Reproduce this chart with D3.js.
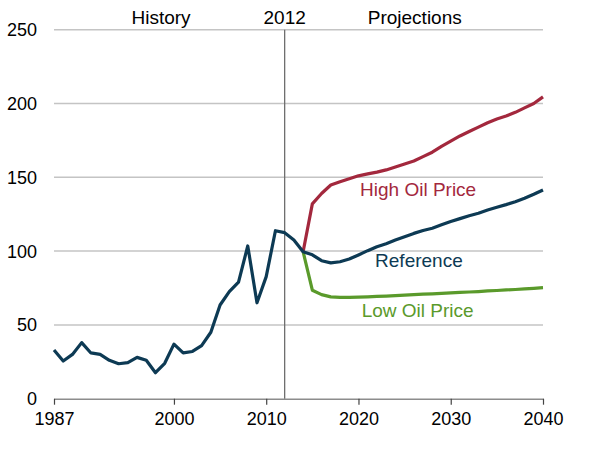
<!DOCTYPE html>
<html>
<head>
<meta charset="utf-8">
<script src="https://cdn.jsdelivr.net/npm/d3@7"></script>
<style>
  body { margin: 0; background: #fff; }
  svg text { font-family: "Liberation Sans", Arial, sans-serif; }
</style>
</head>
<body>
<svg id="chart" width="600" height="454"></svg>
<script>
(function() {
    // values
    var historyYears = d3.range(1987, 2014);
    var historyValues = [33, 25.5, 30, 38, 31, 30, 26, 23.7, 24.4, 28, 26, 17.6, 24,
        37, 31, 32, 36, 45, 63.5, 72.5, 79, 103.5, 65, 82.7, 113.8, 112.5, 107.5];

    var projYears = d3.range(2014, 2041);
    var referenceValues = [99.6, 97.5, 93.5, 92, 92.8, 94.6, 97.4, 100.3, 103, 105, 107.5,
        109.8, 112, 114, 115.5, 117.8, 120, 122, 124, 125.6, 127.8, 129.7, 131.5, 133.5,
        135.8, 138.5, 141.4];
    var highValues = [99.6, 132, 139, 144.8, 147, 149, 151, 152.3, 153.5, 155, 157, 159,
        161, 164, 167, 171, 174.5, 178, 181, 184, 187, 189.5, 191.5, 194, 197, 200, 204.5];
    var lowValues = [99.6, 73.5, 70.5, 69, 68.7, 68.7, 68.8, 69, 69.3, 69.5, 69.8, 70.2,
        70.5, 70.8, 71, 71.3, 71.7, 72, 72.3, 72.6, 73, 73.3, 73.7, 74, 74.4, 74.8, 75.2];

    var xTicks = [1987, 2000, 2010, 2020, 2030, 2040];
    var yTicks = [0, 50, 100, 150, 200, 250];
    var splitYear = 2012;

    var colors = { reference: "#0d3a54", high: "#a3283d", low: "#5a9a2b" };

    var svg = d3.select("#chart");

    var x = d3.scaleLinear().domain([1987, 2040]).range([54, 543]);
    var y = d3.scaleLinear().domain([0, 250]).range([398.7, 29.7]);

    // gridlines
    svg.append("g")
        .selectAll("line")
        .data(yTicks.filter(d => d > 0))
        .join("line")
            .attr("x1", x(1987)).attr("x2", x(2040))
            .attr("y1", d => y(d)).attr("y2", d => y(d))
            .attr("stroke", "#c4c4c4")
            .attr("stroke-width", 1.5);

    // y labels
    svg.append("g")
        .selectAll("text")
        .data(yTicks)
        .join("text")
            .attr("x", 37)
            .attr("y", d => y(d))
            .attr("dy", "0.36em")
            .attr("text-anchor", "end")
            .attr("font-size", 18)
            .attr("fill", "#000")
            .text(d => d);

    // x axis
    var xAxis = svg.append("g")
        .attr("transform", "translate(0," + y(0) + ")")
        .call(d3.axisBottom(x).tickValues(xTicks).tickFormat(d3.format("d")).tickSize(6).tickSizeOuter(0));
    xAxis.select(".domain").attr("stroke", "#8c8c8c").attr("stroke-width", 1.5);
    xAxis.selectAll(".tick line").attr("stroke", "#444").attr("stroke-width", 1.2);
    xAxis.selectAll(".tick text")
        .attr("font-size", 18)
        .attr("font-family", "Liberation Sans, Arial, sans-serif")
        .attr("fill", "#000")
        .attr("y", 14);

    // 2012 divider
    svg.append("line")
        .attr("x1", x(splitYear)).attr("x2", x(splitYear))
        .attr("y1", y(250)).attr("y2", y(0))
        .attr("stroke", "#6e6e6e")
        .attr("stroke-width", 1.3);

    // top labels
    var topLabels = [
        { text: "History", year: 1998.6 },
        { text: "2012", year: 2012 },
        { text: "Projections", year: 2026.1 }
    ];
    svg.append("g")
        .selectAll("text")
        .data(topLabels)
        .join("text")
            .attr("x", d => x(d.year))
            .attr("y", 24)
            .attr("text-anchor", "middle")
            .attr("font-size", 19)
            .attr("fill", "#000")
            .text(d => d.text);

    var line = d3.line()
        .x(d => x(d[0]))
        .y(d => y(d[1]));

    var series = [
        { key: "high", years: projYears, values: highValues },
        { key: "low", years: projYears, values: lowValues },
        { key: "reference", years: historyYears.concat(projYears), values: historyValues.concat(referenceValues) }
    ];

    svg.append("g")
        .selectAll("path")
        .data(series)
        .join("path")
            .attr("d", d => line(d3.zip(d.years, d.values)))
            .attr("fill", "none")
            .attr("stroke", d => colors[d.key])
            .attr("stroke-width", 3.2)
            .attr("stroke-linejoin", "round");

    // series labels
    var seriesLabels = [
        { key: "high", text: "High Oil Price", year: 2020.17, value: 137.3 },
        { key: "reference", text: "Reference", year: 2021.8, value: 89.2 },
        { key: "low", text: "Low Oil Price", year: 2020.35, value: 55.6 }
    ];
    svg.append("g")
        .selectAll("text")
        .data(seriesLabels)
        .join("text")
            .attr("x", d => x(d.year))
            .attr("y", d => y(d.value))
            .attr("font-size", 19)
            .attr("fill", d => colors[d.key])
            .text(d => d.text);
})();
</script>
</body>
</html>
